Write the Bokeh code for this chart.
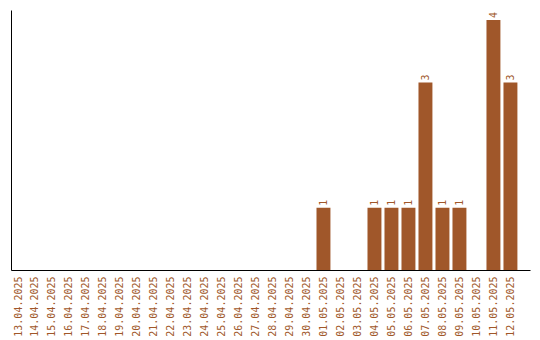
import math
from bokeh.plotting import figure
from bokeh.models import ColumnDataSource, Range1d, FixedTicker
from bokeh.core.properties import value
from bokeh.embed import file_html
from bokeh.resources import INLINE

dates = ["13.04.2025", "14.04.2025", "15.04.2025", "16.04.2025", "17.04.2025",
         "18.04.2025", "19.04.2025", "20.04.2025", "21.04.2025", "22.04.2025",
         "23.04.2025", "24.04.2025", "25.04.2025", "26.04.2025", "27.04.2025",
         "28.04.2025", "29.04.2025", "30.04.2025", "01.05.2025", "02.05.2025",
         "03.05.2025", "04.05.2025", "05.05.2025", "06.05.2025", "07.05.2025",
         "08.05.2025", "09.05.2025", "10.05.2025", "11.05.2025", "12.05.2025"]
counts = [0, 0, 0, 0, 0, 0, 0, 0, 0, 0,
          0, 0, 0, 0, 0, 0, 0, 0, 1, 0,
          0, 1, 1, 1, 3, 1, 1, 0, 4, 3]

BROWN = "#A0572A"

idx = list(range(len(dates)))

p = figure(x_range=Range1d(-0.353, 30.18), y_range=Range1d(0, 4.15),
           width=540, height=340, output_backend="svg", toolbar_location=None,
           min_border_left=11, min_border_right=10, min_border_top=10,
           min_border_bottom=70)
p.outline_line_color = None
p.grid.visible = False

src = ColumnDataSource(dict(x=idx, y=counts))
p.vbar(x="x", top="y", width=0.82, source=src, fill_color=BROWN, line_color=None)

lab_x = [i for i, c in zip(idx, counts) if c > 0]
lab_y = [c for c in counts if c > 0]
lab_t = [str(c) for c in lab_y]
p.text(x=lab_x, y=lab_y, text=lab_t, angle=math.pi / 2, text_align="left",
       text_baseline="middle", y_offset=-2,
       text_font=value("DejaVu Sans Mono"), text_font_size="10px",
       text_color=BROWN)

p.xaxis.ticker = FixedTicker(ticks=idx)
p.xaxis.major_label_overrides = {i: d for i, d in zip(idx, dates)}
p.xaxis.major_label_orientation = math.pi / 2
p.xaxis.major_label_text_font = "DejaVu Sans Mono"
p.xaxis.major_label_text_font_size = "10px"
p.xaxis.major_label_text_color = BROWN
p.xaxis.major_tick_line_color = None
p.xaxis.major_tick_out = 0
p.xaxis.major_tick_in = 0
p.xaxis.minor_tick_line_color = None
p.xaxis.minor_tick_out = 0
p.xaxis.axis_line_color = "black"
p.xaxis.major_label_standoff = 6

p.yaxis.ticker = FixedTicker(ticks=[])
p.yaxis.major_tick_line_color = None
p.yaxis.major_tick_out = 0
p.yaxis.minor_tick_line_color = None
p.yaxis.minor_tick_out = 0
p.yaxis.axis_line_color = "black"
p.yaxis.major_label_standoff = 0

open("out.html", "w").write(file_html(p, INLINE))
